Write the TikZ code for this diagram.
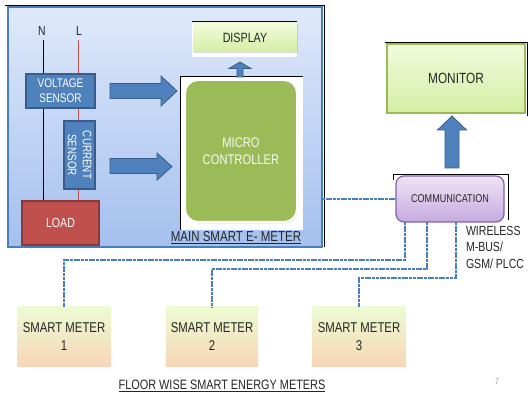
\documentclass[tikz,border=0pt]{standalone}
\usepackage{fontspec}
\setmainfont[FakeStretch=0.8]{Liberation Sans}
\usetikzlibrary{shadows}
\pgfdeclarelayer{back}
\pgfdeclarelayer{mid}
\pgfsetlayers{back,mid,main}
\definecolor{accblue}{HTML}{4F81BD}
\definecolor{accblueD}{HTML}{385D8A}
\definecolor{accred}{HTML}{C0504D}
\definecolor{accredD}{HTML}{8C3836}
\definecolor{accgreen}{HTML}{9BBB59}
\definecolor{accpurple}{HTML}{8064A2}
\definecolor{txt}{HTML}{262626}
\definecolor{linkblue}{HTML}{4A7EBB}
\definecolor{MeterTop}{HTML}{ECFBD2}
\definecolor{MeterBot}{HTML}{F8D5B8}
\definecolor{GreenTop}{HTML}{F2FBDC}
\definecolor{GreenBot}{HTML}{D4EEA4}
\definecolor{MainTop}{HTML}{DFE9FA}
\definecolor{MainBot}{HTML}{A4C0EE}
\definecolor{PurpTop}{HTML}{EFE4F6}
\definecolor{PurpBot}{HTML}{C6AADF}
\tikzset{
  plain/.style={inner sep=0pt, outer sep=0pt},
  fs/.style 2 args={font=\fontsize{#1}{#2}\selectfont},
  sensorbox/.style={plain, draw=accblueD, line width=1.2pt, fill=accblue, text=white, align=center},
  blockarrow/.style={draw=accblueD, line width=0.8pt, fill=accblue, line join=miter},
  metersbox/.style={plain, top color=MeterTop, bottom color=MeterBot, minimum height=60pt, align=center, text=txt, fs={14.2}{18}},
  link/.style={draw=linkblue, line width=1.8pt, dash pattern=on 3pt off 0.7pt},
  cropline/.style={draw=black, line width=0.8pt},
}
\begin{document}
\begin{tikzpicture}[x=1pt,y=-1pt]
\begin{pgfonlayer}{back}
\useasboundingbox[fill=white] (0,0) rectangle (528,398);
\node[plain, draw=linkblue, line width=1.5pt, top color=MainTop, bottom color=MainBot,
      minimum width=314pt, minimum height=240pt] (main) at (165,127) {};
\draw[cropline] ([xshift=-3pt,yshift=2pt]main.north west) -- ([xshift=2pt,yshift=2pt]main.north east) -- ([xshift=2pt]main.south east);
\end{pgfonlayer}
\coordinate (ntop) at (43,40);
\coordinate (ltop) at (78,40);
\node[plain, text=txt, fs={13}{14}] (nlab) at (42,31) {N};
\node[plain, text=txt, fs={13}{14}] (llab) at (79,31) {L};
% sensors and load
\node[sensorbox, minimum width=69pt, minimum height=34pt, fs={12.5}{15}] (volt) at (60.5,91) {VOLTAGE\\SENSOR};
\node[sensorbox, minimum width=31pt, minimum height=68pt] (curr) at (79.5,155) {};
\node[plain, text=white, rotate=-90, align=center, fs={12.3}{15}] (currtxt) at (curr.center) {CURRENT\\SENSOR};
\node[plain, draw=accredD, line width=1.2pt, fill=accred, text=white, minimum width=77pt, minimum height=44pt, fs={13.2}{14}] (load) at (60.5,223) {LOAD};
\begin{pgfonlayer}{mid}
\draw[black, line width=1pt] (ntop) -- (ntop |- load.north);
\draw[accred, line width=1pt] (ltop) -- (ltop |- load.north);
\end{pgfonlayer}
% micro controller
\node[plain, fill=white, minimum width=123pt, minimum height=154pt] (microbg) at (241.5,153) {};
\draw[cropline] (microbg.south west) -- (microbg.north west) -- (microbg.north east);
\node[plain, draw=white, line width=2pt, fill=accgreen, rounded corners=13pt, minimum width=112pt, minimum height=142pt,
      drop shadow={opacity=0.25, shadow xshift=1pt, shadow yshift=-1.5pt},
      text=white!92!accgreen, align=center, fs={14}{16.5}] (micro) at (241,151) {MICRO\\CONTROLLER};
% display
\node[plain, fill=white, minimum width=105pt, minimum height=36pt] (dispbg) at (244.5,39) {};
\draw[cropline] (dispbg.north west) -- (dispbg.north east);
\node[plain, top color=GreenTop, bottom color=GreenBot, minimum width=104pt, minimum height=29pt,
      drop shadow={opacity=0.3, shadow xshift=0.8pt, shadow yshift=-1.2pt},
      text=txt, fs={13.4}{14}] (disp) at (245,37.5) {DISPLAY};
\node[plain, text=txt, fs={14.4}{15}] (mainlab) at (236,238) {\underline{MAIN SMART E- METER}};
% block arrows
\draw[blockarrow] (110,83.5) -- (161,83.5) -- (161,76) -- (177,91) -- (161,106) -- (161,98.5) -- (110,98.5) -- cycle;
\draw[blockarrow] (110,158.5) -- (157,158.5) -- (157,153) -- (172,166.5) -- (157,180) -- (157,173.5) -- (110,173.5) -- cycle;
\draw[blockarrow] (237,77) -- (237,68.5) -- (229,68.5) -- (240,62) -- (251,68.5) -- (243,68.5) -- (243,77) -- cycle;
\draw[blockarrow] (445,168) -- (445,130) -- (437.5,130) -- (452,116) -- (466.5,130) -- (459,130) -- (459,168) -- cycle;
% monitor
\draw[cropline] (385,42) -- (527,42) -- (527,116);
\node[plain, draw=accgreen, line width=1.2pt, top color=GreenTop, bottom color=GreenBot, minimum width=138pt, minimum height=69pt,
      drop shadow={opacity=0.3, shadow xshift=0.8pt, shadow yshift=-1.5pt},
      text=txt, fs={14.8}{15}] (mon) at (456,78.5) {MONITOR};
% communication
\draw[cropline] (393,180) -- (393,174) -- (508,174) -- (508,220);
\node[plain, draw=accpurple, line width=1.2pt, rounded corners=8pt, top color=PurpTop, bottom color=PurpBot,
      minimum width=108pt, minimum height=46pt, text=txt, fs={11.3}{12}] (comm) at (450,199) {COMMUNICATION};
\node[plain, anchor=north west, align=left, text=txt, fs={13.2}{16.5}] (wless) at (466,226) {WIRELESS\\M-BUS/\\GSM/ PLCC};
% smart meters
\node[metersbox, minimum width=94pt] (sm1) at (64,337) {SMART METER\\1};
\node[metersbox, minimum width=92pt] (sm2) at (212,337) {SMART METER\\2};
\node[metersbox, minimum width=94pt] (sm3) at (359,337) {SMART METER\\3};
\node[plain, text=txt, fs={13.6}{14}] (floorlab) at (222,386) {\underline{FLOOR WISE SMART ENERGY METERS}};
\node[plain, text=black!40, fs={8.5}{10}] (pgnum) at (497,382) {7};
% links
\draw[link] (main.east |- comm.west) -- (comm.west);
\draw[link] ([xshift=-45pt]comm.south) |- ([yshift=47pt]sm1.north) -- (sm1.north);
\draw[link] ([xshift=-23pt]comm.south) |- ([yshift=38pt]sm2.north) -- (sm2.north);
\draw[link] ([xshift=6pt]comm.south) |- ([yshift=29pt]sm3.north) -- (sm3.north);
\end{tikzpicture}
\end{document}
